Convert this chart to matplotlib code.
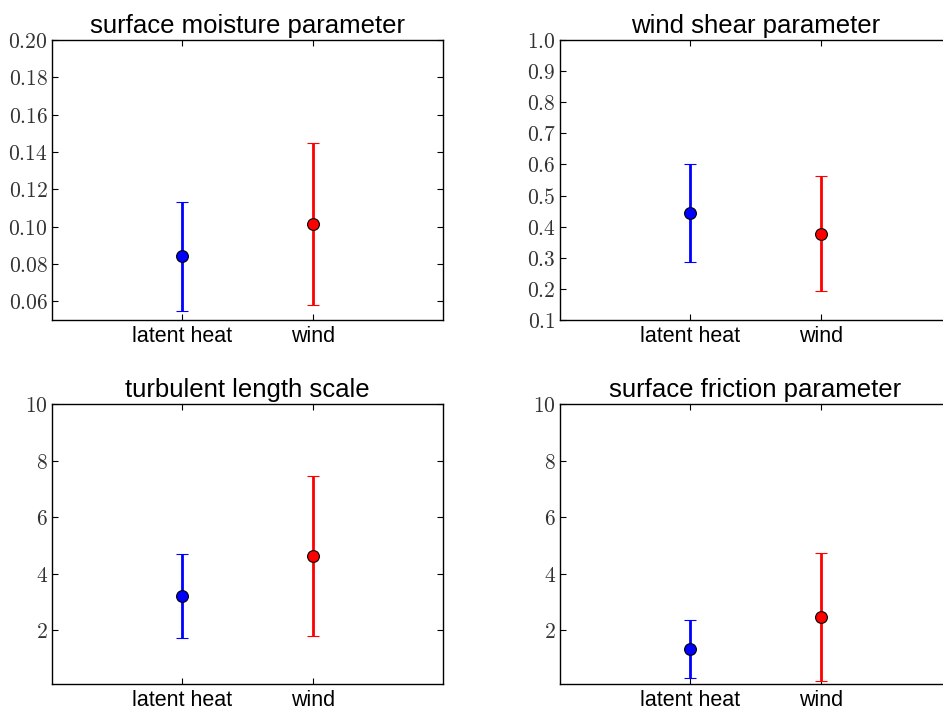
import matplotlib
matplotlib.use("Agg")
import matplotlib.pyplot as plt
from matplotlib.ticker import FuncFormatter, FixedLocator

plt.rcParams['mathtext.fontset'] = 'cm'
plt.rcParams['font.family'] = ['Liberation Sans', 'DejaVu Sans']

categories = ["latent heat", "wind"]
colors = ["blue", "red"]

titles = ["surface moisture parameter", "wind shear parameter",
          "turbulent length scale", "surface friction parameter"]

moisture_mean = [0.0841, 0.1016]
moisture_err = [0.0293, 0.0433]
shear_mean = [0.443, 0.377]
shear_err = [0.158, 0.185]
length_mean = [3.21, 4.63]
length_err = [1.49, 2.84]
friction_mean = [1.34, 2.47]
friction_err = [1.04, 2.26]

moisture_ticks = [0.06, 0.08, 0.10, 0.12, 0.14, 0.16, 0.18, 0.20]
shear_ticks = [0.1, 0.2, 0.3, 0.4, 0.5, 0.6, 0.7, 0.8, 0.9, 1.0]
scale_ticks = [2, 4, 6, 8, 10]

panels = [
    (moisture_mean, moisture_err, (0.05, 0.20), moisture_ticks, "%.2f"),
    (shear_mean, shear_err, (0.1, 1.0), shear_ticks, "%.1f"),
    (length_mean, length_err, (0.1, 10), scale_ticks, "%d"),
    (friction_mean, friction_err, (0.1, 10), scale_ticks, "%d"),
]

W, H = 943, 711
fig = plt.figure(figsize=(W / 100, H / 100), dpi=100)
boxes = [
    (52, 40, 391, 280),
    (560, 40, 391, 280),
    (52, 404, 391, 280),
    (560, 404, 391, 280),
]

for (mean, err, ylim, ticks, fmt), title, (x0, y0, w, h) in zip(panels, titles, boxes):
    ax = fig.add_axes([x0 / W, 1 - (y0 + h) / H, w / W, h / H])
    for i, (m, e, c) in enumerate(zip(mean, err, colors)):
        ax.errorbar(i + 1, m, yerr=e, fmt='o', color=c, ecolor=c,
                    elinewidth=2.0, capsize=4.5, capthick=1.3,
                    markersize=8.5, markerfacecolor=c,
                    markeredgecolor='black', markeredgewidth=0.8, zorder=3)
    ax.set_xlim(0, 3)
    ax.set_ylim(*ylim)
    ax.set_xticks([1, 2])
    ax.set_xticklabels(categories, fontsize=15.5)
    ax.yaxis.set_major_locator(FixedLocator(ticks))
    ax.yaxis.set_major_formatter(FuncFormatter(lambda v, p, f=fmt: r'$%s$' % (f % v)))
    ax.tick_params(direction='in', top=True, right=True, length=4, width=0.8)
    ax.tick_params(axis='y', labelsize=15.5, labelcolor='#333333', pad=3)
    ax.tick_params(axis='x', pad=4)
    for s in ax.spines.values():
        s.set_linewidth(1.0)
    ax.set_title(title, fontsize=18.5, pad=5)

fig.savefig("out.png", dpi=100)
